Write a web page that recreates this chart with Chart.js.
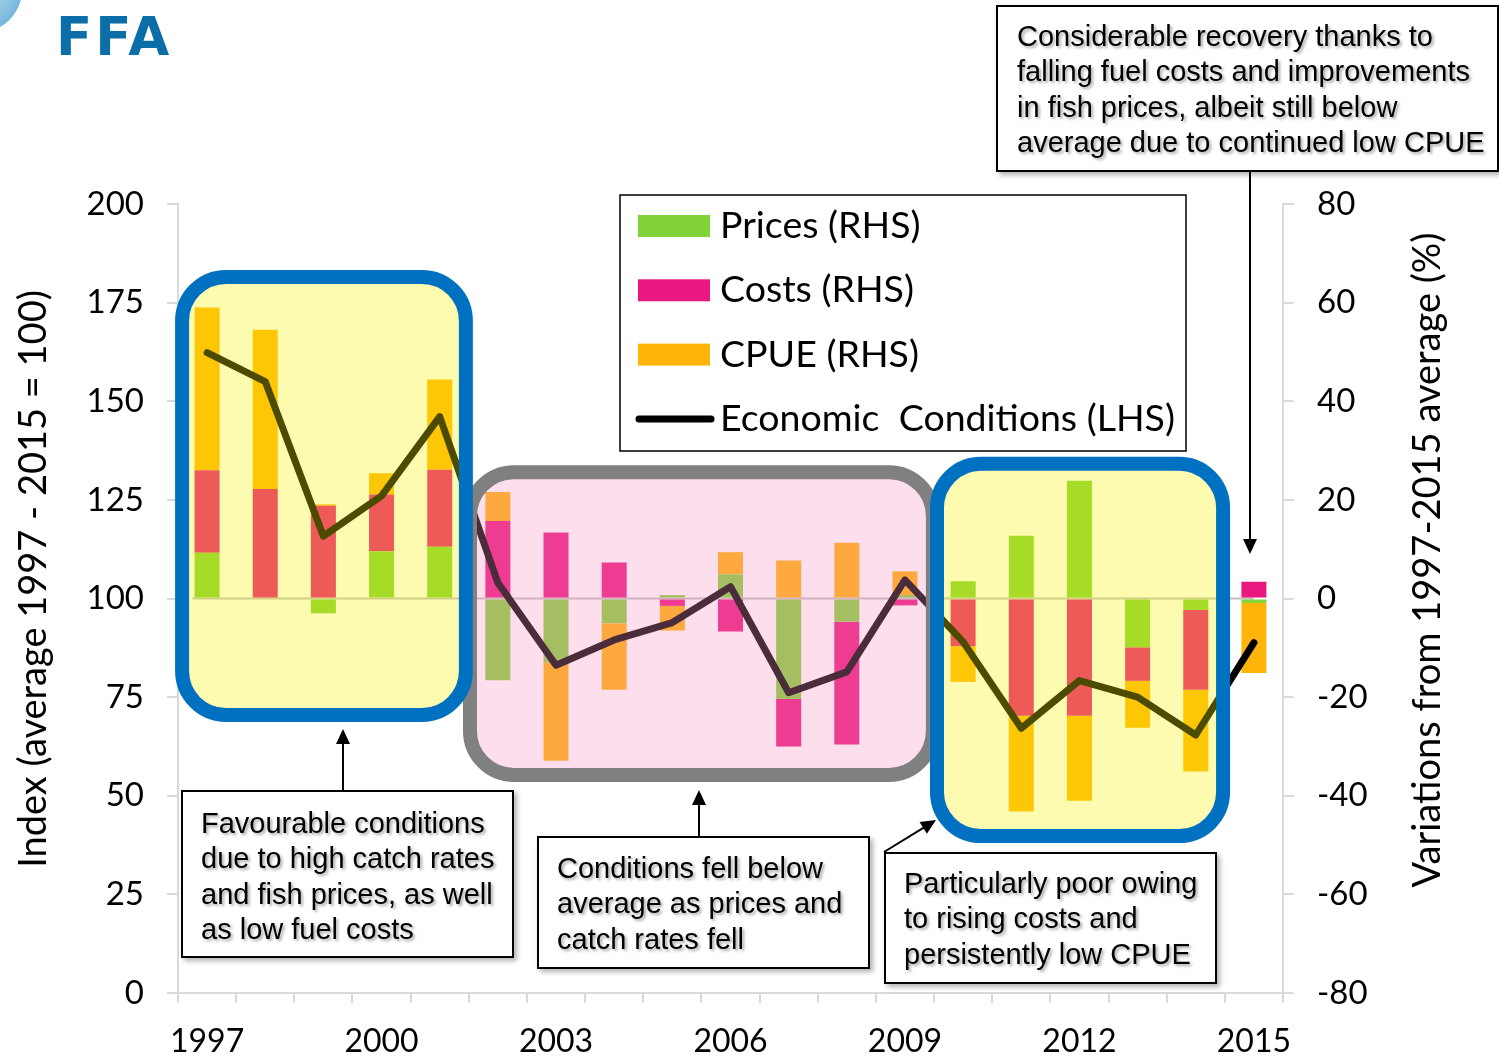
<!DOCTYPE html>
<html>
<head>
<meta charset="utf-8">
<script src="https://cdn.jsdelivr.net/npm/chart.js@4.4.0/dist/chart.umd.min.js"></script>
<style>
body { margin: 0; background: #fff; }
#wrap { position: relative; width: 1499px; height: 1060px; overflow: hidden; }
.note {
  position: absolute; box-sizing: border-box; background: #fff; border: 2px solid #000;
  font-family: "Liberation Sans", Arial, sans-serif; font-size: 29px; line-height: 35.3px;
  color: #000; white-space: nowrap;
  text-shadow: 2px 2px 3px rgba(0,0,0,.35);
  box-shadow: 3px 3px 5px rgba(0,0,0,.3);
}
#logo { position: absolute; left: 56px; top: 6px; font-family: "DejaVu Sans", sans-serif; font-weight: bold;
  font-size: 53px; letter-spacing: 3px; color: #0B6EA8; }
#swirl { position: absolute; left: -62px; top: -52px; width: 84px; height: 84px; border-radius: 50%;
  background: radial-gradient(circle at 40% 40%, #cfe6f3 0%, #8cc3e2 60%, #4c9fd0 100%); }
</style>
</head>
<body>
<div id="wrap">
  <canvas id="grafico" width="1499" height="1060"></canvas>
  <div id="swirl"></div>
  <div id="logo">FFA</div>
  <div class="note" style="left:181px;top:790px;width:333px;height:168px;padding:14px 0 0 18px;">Favourable conditions<br>due to high catch rates<br>and fish prices, as well<br>as low fuel costs</div>
  <div class="note" style="left:537px;top:836px;width:333px;height:133px;padding:13px 0 0 18px;">Conditions fell below<br>average as prices and<br>catch rates fell</div>
  <div class="note" style="left:884px;top:852px;width:333px;height:132px;padding:12px 0 0 18px;">Particularly poor owing<br>to rising costs and<br>persistently low CPUE</div>
  <div class="note" style="left:996px;top:5px;width:503px;height:167px;padding:12px 0 0 19px;">Considerable recovery thanks to<br>falling fuel costs and improvements<br>in fish prices, albeit still below<br>average due to continued low CPUE</div>
</div>
<script>
// dados
const anos = ['1997', '1998', '1999', '2000', '2001', '2002', '2003', '2004', '2005', '2006',
              '2007', '2008', '2009', '2010', '2011', '2012', '2013', '2014', '2015'];
const precos = [9.3, 0, -3.0, 9.6, 10.5, -16.6, -13.0, -5.0, 0.7, 4.9,
                -20.4, -4.7, 0.7, 3.5, 12.7, 23.9, -9.9, -2.3, -0.9];
const custos = [16.7, 22.2, 18.8, 11.5, 15.6, 15.7, 13.4, 7.3, -1.5, -6.7,
                -9.6, -24.9, -1.4, -9.7, -23.8, -23.8, -6.8, -16.2, 3.4];
const cpue = [33.0, 32.3, 0.3, 4.3, 18.3, 5.9, -19.9, -13.5, -5.0, 4.5,
              7.7, 11.3, 4.8, -7.2, -19.4, -17.2, -9.5, -16.6, -14.2];
const economia = [162.3, 155.0, 115.8, 126.0, 146.1, 104.0, 83.1, 89.5, 93.9, 103.0,
                  76.1, 81.4, 104.7, 89.0, 67.1, 79.2, 75.0, 65.4, 88.8];
const ticksEsq = [0, 25, 50, 75, 100, 125, 150, 175, 200];
const ticksDir = [-80, -60, -40, -20, 0, 20, 40, 60, 80];

// caixas de destaque (em unidades dos eixos: índice do ano e eixo esquerdo)
const destaques = [
  { x0: 4.40, x1: 12.60, y0: 133.8, y1: 53.5, fill: 'rgba(247,147,193,0.30)', stroke: '#808080' },
  { x0: -0.55, x1: 4.57, y0: 183.3, y1: 68.7, fill: 'rgba(248,241,0,0.31)', stroke: '#0070C0' },
  { x0: 12.43, x1: 17.59, y0: 135.9, y1: 38.0, fill: 'rgba(248,241,0,0.31)', stroke: '#0070C0' }
];

Chart.defaults.font.family = 'Lato';
Chart.defaults.color = '#000';

function caminhoArredondado(ctx, x, y, w, h, r) {
  ctx.beginPath();
  ctx.moveTo(x + r, y);
  ctx.lineTo(x + w - r, y);
  ctx.arcTo(x + w, y, x + w, y + r, r);
  ctx.lineTo(x + w, y + h - r);
  ctx.arcTo(x + w, y + h, x + w - r, y + h, r);
  ctx.lineTo(x + r, y + h);
  ctx.arcTo(x, y + h, x, y + h - r, r);
  ctx.lineTo(x, y + r);
  ctx.arcTo(x, y, x + r, y, r);
  ctx.closePath();
}

function seta(ctx, x1, y1, x2, y2) {
  const ang = Math.atan2(y2 - y1, x2 - x1);
  ctx.save();
  ctx.strokeStyle = '#000';
  ctx.fillStyle = '#000';
  ctx.lineWidth = 2;
  ctx.beginPath();
  ctx.moveTo(x1, y1);
  ctx.lineTo(x2 - 12 * Math.cos(ang), y2 - 12 * Math.sin(ang));
  ctx.stroke();
  ctx.translate(x2, y2);
  ctx.rotate(ang);
  ctx.beginPath();
  ctx.moveTo(0, 0);
  ctx.lineTo(-15, -7);
  ctx.lineTo(-15, 7);
  ctx.closePath();
  ctx.fill();
  ctx.restore();
}

const extras = {
  id: 'extras',
  beforeDatasetsDraw(chart) {
    const { ctx, scales } = chart;
    const y0 = scales.y2.getPixelForValue(0);
    ctx.save();
    ctx.strokeStyle = '#BFBFBF';
    ctx.lineWidth = 2;
    ctx.beginPath();
    ctx.moveTo(scales.x.getPixelForValue(-0.25), y0);
    ctx.lineTo(scales.x.getPixelForValue(18), y0);
    ctx.stroke();
    ctx.restore();
  },
  afterDatasetsDraw(chart) {
    const { ctx, scales } = chart;
    const lw = 14;
    destaques.forEach(b => {
      const l = scales.x.getPixelForValue(b.x0), r = scales.x.getPixelForValue(b.x1);
      const t = scales.y.getPixelForValue(b.y0), bo = scales.y.getPixelForValue(b.y1);
      ctx.save();
      caminhoArredondado(ctx, l + lw / 2, t + lw / 2, r - l - lw, bo - t - lw, 44);
      ctx.fillStyle = b.fill;
      ctx.fill();
      ctx.lineWidth = lw;
      ctx.strokeStyle = b.stroke;
      ctx.stroke();
      ctx.restore();
    });
  },
  afterDraw(chart) {
    const ctx = chart.ctx;
    // legenda
    ctx.save();
    ctx.fillStyle = '#fff';
    ctx.fillRect(620, 195, 566, 256);
    ctx.strokeStyle = '#000';
    ctx.lineWidth = 1.5;
    ctx.strokeRect(620, 195, 566, 256);
    ctx.font = '37.5px Lato';
    ctx.textBaseline = 'middle';
    chart.data.datasets.forEach((ds, i) => {
      const yc = 226 + i * 64.3;
      if (ds.type === 'line') {
        ctx.strokeStyle = ds.borderColor;
        ctx.lineWidth = 7;
        ctx.lineCap = 'round';
        ctx.beginPath();
        ctx.moveTo(639, yc);
        ctx.lineTo(711, yc);
        ctx.stroke();
      } else {
        ctx.fillStyle = ds.backgroundColor;
        ctx.fillRect(638, yc - 11, 72, 22);
      }
      ctx.fillStyle = '#000';
      ctx.fillText(ds.label, 720, yc);
    });
    // títulos dos eixos
    ctx.font = '38px Lato';
    ctx.textAlign = 'center';
    ctx.save();
    ctx.translate(34, 579);
    ctx.rotate(-Math.PI / 2);
    ctx.fillText('Index (average 1997 - 2015 = 100)', 0, 0);
    ctx.restore();
    ctx.save();
    ctx.translate(1428, 560);
    ctx.rotate(-Math.PI / 2);
    ctx.fillText('Variations from 1997-2015 average (%)', 0, 0);
    ctx.restore();
    ctx.restore();
    // setas
    seta(ctx, 343, 790, 343, 729);
    seta(ctx, 699, 836, 699, 790);
    seta(ctx, 884, 852, 936, 820);
    seta(ctx, 1250, 171, 1250, 554);
  }
};

const ctxGrafico = document.getElementById('grafico');
const barra = { yAxisID: 'y2', stack: 'rhs', order: 1, barPercentage: 0.43, categoryPercentage: 1 };

new Chart(ctxGrafico, {
  type: 'bar',
  data: {
    labels: anos,
    datasets: [
      Object.assign({ label: 'Prices (RHS)', data: precos, backgroundColor: '#82D23A' }, barra),
      Object.assign({ label: 'Costs (RHS)', data: custos, backgroundColor: '#E9177F' }, barra),
      Object.assign({ label: 'CPUE (RHS)', data: cpue, backgroundColor: '#FFB40A' }, barra),
      {
        type: 'line', label: 'Economic  Conditions (LHS)', data: economia, yAxisID: 'y', order: 0,
        borderColor: '#000', borderWidth: 7, pointRadius: 0, tension: 0,
        borderJoinStyle: 'round', borderCapStyle: 'round'
      }
    ]
  },
  options: {
    responsive: false,
    animation: false,
    devicePixelRatio: 1,
    layout: { padding: { top: 204, left: 0, right: 0, bottom: 0 } },
    plugins: { legend: { display: false }, tooltip: { enabled: false } },
    scales: {
      x: {
        stacked: true,
        offset: true,
        grid: { drawOnChartArea: false, offset: true, tickLength: 10, color: '#D9D9D9', lineWidth: 2 },
        border: { color: '#D9D9D9', width: 2 },
        ticks: {
          autoSkip: false, maxRotation: 0, padding: 19, font: { size: 32 },
          callback: (v, i) => (i % 3 === 0 ? anos[i] : '')
        },
        afterFit: s => { s.height = 67; }
      },
      y: {
        position: 'left', min: 0, max: 200,
        grid: { drawOnChartArea: false, tickLength: 11, color: '#D9D9D9', lineWidth: 2 },
        border: { color: '#D9D9D9', width: 2 },
        afterBuildTicks: s => { s.ticks = ticksEsq.map(v => ({ value: v })); },
        ticks: { padding: 23, font: { size: 33 } },
        afterFit: s => { s.width = 178; }
      },
      y2: {
        position: 'right', min: -80, max: 80, stacked: true,
        grid: { drawOnChartArea: false, tickLength: 11, color: '#D9D9D9', lineWidth: 2 },
        border: { color: '#D9D9D9', width: 2 },
        afterBuildTicks: s => { s.ticks = ticksDir.map(v => ({ value: v })); },
        ticks: { padding: 23, font: { size: 33 } },
        afterFit: s => { s.width = 216; }
      }
    }
  },
  plugins: [extras]
});
</script>
</body>
</html>
